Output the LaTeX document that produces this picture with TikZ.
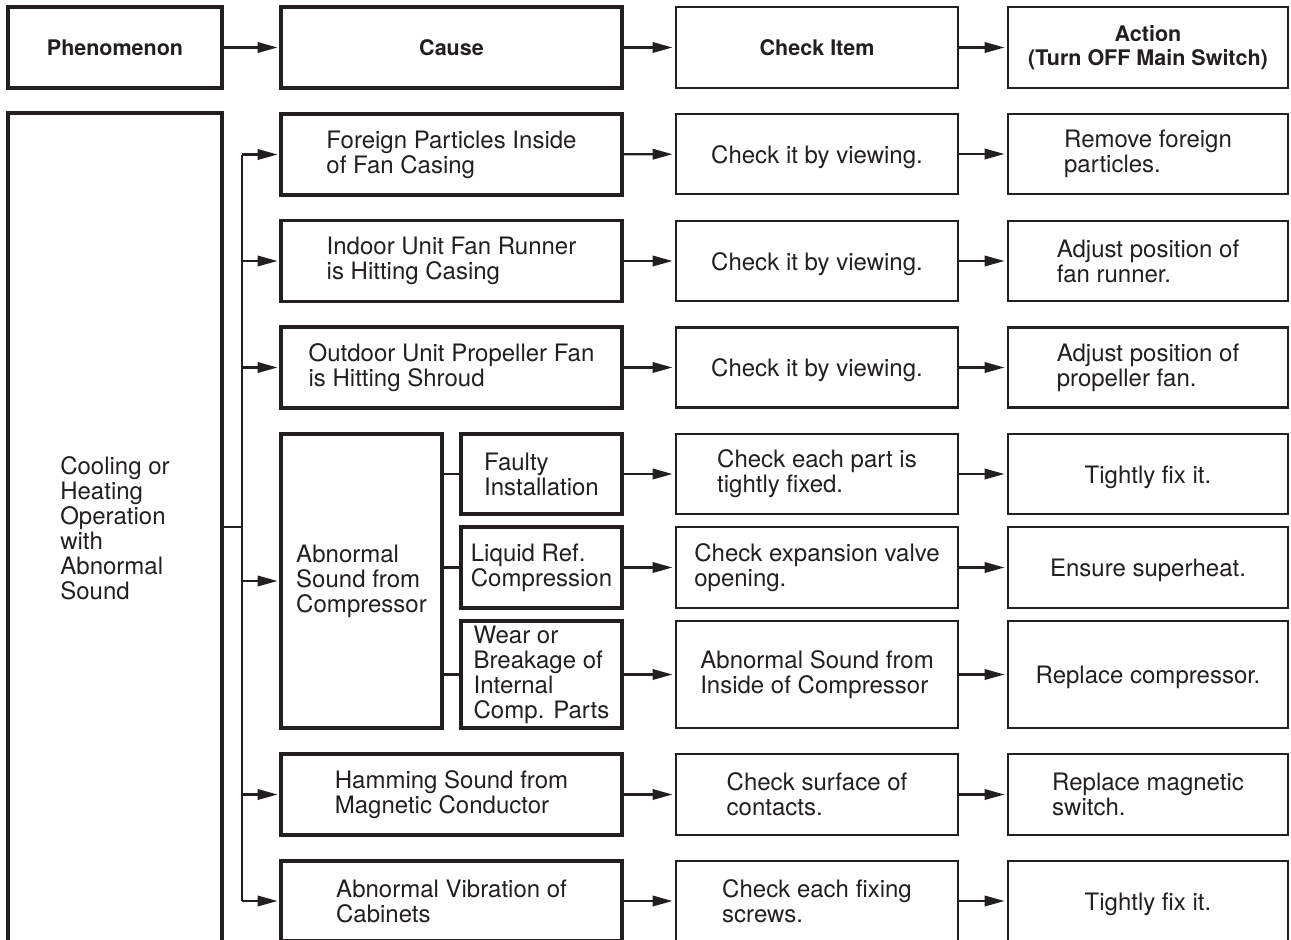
\documentclass[tikz,border=0pt]{standalone}
\usepackage{fontspec}
\setmainfont{TeX Gyre Heros}
\usetikzlibrary{arrows.meta}
\definecolor{ink}{HTML}{231F20}
\begin{document}
\begin{tikzpicture}[x=1pt,y=-1pt,
  every node/.style={inner sep=0pt, outer sep=0pt, text=ink},
  lower/.style={execute at begin node={\rule{0pt}{#1}}},
  lower/.default=23.5pt,
  heavyline/.style={draw=ink, line width=3.4pt},
  lightline/.style={draw=ink, line width=2.4pt},
  bodytext/.style={align=left, font=\fontsize{24}{25}\selectfont},
  heavybox/.style={heavyline, bodytext, lower},
  lightbox/.style={lightline, bodytext, lower},
  headtext/.style={align=center, font=\fontsize{21.5}{23.5}\selectfont\bfseries},
  conn/.style={draw=ink, line width=2.2pt},
  arr/.style={conn, shorten >=3.5pt, -{Triangle[length=20pt,width=10.5pt]}}]
\useasboundingbox (0,0) rectangle (1291,940);
\clip (0,0) rectangle (1291,940);
% header
\node[heavyline, headtext, minimum width=214, minimum height=81] (hP) at (115,47.5) {Phenomenon};
\node[heavyline, headtext, minimum width=341, minimum height=81] (hC) at (451.5,47.5) {Cause};
\node[lightline, headtext, minimum width=282, minimum height=81] (hK) at (817,47.5) {Check Item};
\node[lightline, headtext, minimum width=280, minimum height=81] (hA) at (1148,47.5) {Action\\(Turn OFF Main Switch)};
\draw[arr] (hP) -- (hC);
\draw[arr] (hC) -- (hK);
\draw[arr] (hK) -- (hA);
% phenomenon
\node[heavybox, minimum width=214, minimum height=830] (ph) at (115,528) {Cooling or\\Heating\\Operation\\with\\Abnormal\\Sound};
% causes
\node[heavybox, minimum width=341, minimum height=81] (c1) at (451.5,154.5) {Foreign Particles Inside\\of Fan Casing};
\node[heavybox, minimum width=341, minimum height=81] (c2) at (451.5,261) {Indoor Unit Fan Runner\\is Hitting Casing};
\node[heavybox, minimum width=341, minimum height=81] (c3) at (451.5,367.5) {Outdoor Unit Propeller Fan\\is Hitting Shroud};
\node[heavybox, minimum width=161, minimum height=294] (c4) at (361.5,581) {Abnormal\\Sound from\\Compressor};
\node[heavybox, lower=17pt, minimum width=161, minimum height=80] (s1) at (541.5,474) {Faulty\\Installation};
\node[heavybox, lower=21.5pt, minimum width=161, minimum height=81] (s2) at (541.5,567.5) {Liquid Ref.\\Compression};
\node[heavybox, minimum width=161, minimum height=107] (s3) at (541.5,674.5) {Wear or\\Breakage of\\Internal\\Comp. Parts};
\node[heavybox, lower=19.5pt, minimum width=341, minimum height=81] (c5) at (451.5,794.5) {Hamming Sound from\\Magnetic Conductor};
\node[heavybox, lower=17pt, minimum width=341, minimum height=80] (c6) at (451.5,901) {Abnormal Vibration of\\Cabinets};
% check items
\node[lightbox, minimum width=282, minimum height=80] (k1) at (817,154) {Check it by viewing.};
\node[lightbox, minimum width=282, minimum height=80] (k2) at (817,261) {Check it by viewing.};
\node[lightbox, minimum width=282, minimum height=80] (k3) at (817,367.5) {Check it by viewing.};
\node[lightbox, minimum width=282, minimum height=80] (k4) at (817,474) {Check each part is\\tightly fixed.};
\node[lightbox, minimum width=282, minimum height=81] (k5) at (817,567.5) {Check expansion valve\\opening.};
\node[lightbox, minimum width=282, minimum height=107] (k6) at (817,674.5) {Abnormal Sound from\\Inside of Compressor};
\node[lightbox, lower=19.5pt, minimum width=282, minimum height=81] (k7) at (817,794.5) {Check surface of\\contacts.};
\node[lightbox, lower=17pt, minimum width=282, minimum height=80] (k8) at (817,901) {Check each fixing\\screws.};
% actions
\node[lightbox, minimum width=280, minimum height=80] (a1) at (1148,154) {Remove foreign\\particles.};
\node[lightbox, minimum width=280, minimum height=80] (a2) at (1148,261) {Adjust position of\\fan runner.};
\node[lightbox, minimum width=280, minimum height=80] (a3) at (1148,367.5) {Adjust position of\\propeller fan.};
\node[lightbox, minimum width=280, minimum height=80] (a4) at (1148,474) {Tightly fix it.};
\node[lightbox, minimum width=280, minimum height=81] (a5) at (1148,567.5) {Ensure superheat.};
\node[lightbox, minimum width=280, minimum height=107] (a6) at (1148,674.5) {Replace compressor.};
\node[lightbox, lower=19.5pt, minimum width=280, minimum height=81] (a7) at (1148,794.5) {Replace magnetic\\switch.};
\node[lightbox, lower=20pt, minimum width=280, minimum height=80] (a8) at (1148,901) {Tightly fix it.};
% bus
\coordinate (btop) at (242,154.5);
\coordinate (bbot) at (242,901);
\coordinate (bmid) at (242,527);
\draw[conn] (btop) -- (bbot);
\draw[conn] (ph.east |- bmid) -- (bmid);
\foreach \c in {c1,c2,c3,c5,c6} { \draw[arr] (btop |- \c.west) -- (\c.west); }
\draw[arr] (btop |- c4.west) -- (c4.west);
\foreach \s in {s1,s2,s3} { \draw[conn] (c4.east |- \s.west) -- (\s.west); }
% cause -> check
\foreach \c/\k in {c1/k1,c2/k2,c3/k3,s1/k4,s2/k5,s3/k6,c5/k7,c6/k8} { \draw[arr] (\c) -- (\k); }
\foreach \k/\a in {k1/a1,k2/a2,k3/a3,k4/a4,k5/a5,k6/a6,k7/a7,k8/a8} { \draw[arr] (\k) -- (\a); }
\end{tikzpicture}
\end{document}
